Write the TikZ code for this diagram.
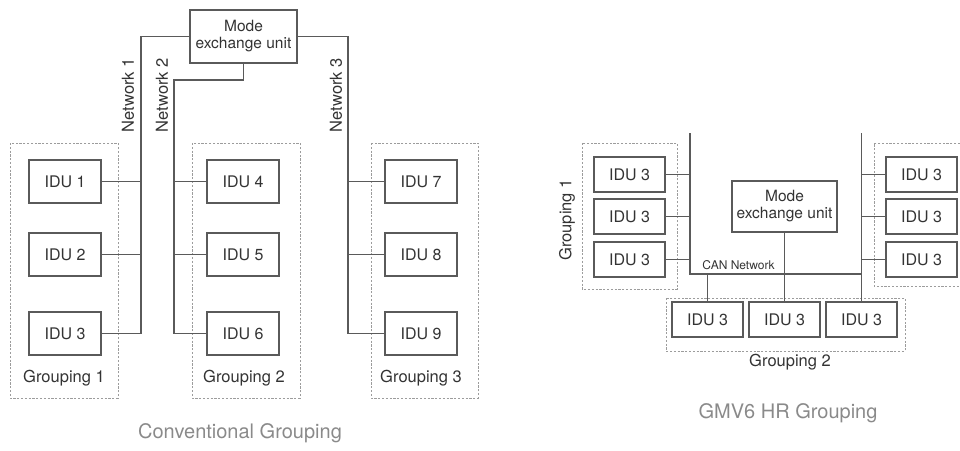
\documentclass[tikz,border=0pt]{standalone}
\usepackage{fontspec}
\setmainfont{TeX Gyre Heros}
\definecolor{linegray}{HTML}{5A5A5A}
\definecolor{txtgray}{HTML}{333333}
\definecolor{dashgray}{HTML}{9C9C9C}
\definecolor{titlegray}{HTML}{8A8A8A}
\begin{document}
\begin{tikzpicture}[x=1pt,y=-1pt,
  idu/.style={draw=linegray, line width=1.1pt, minimum width=72pt, minimum height=43pt, inner sep=0pt, font=\fontsize{16}{18}\selectfont, text=txtgray},
  iduR/.style={idu, minimum width=71pt, minimum height=35pt},
  modebox/.style={draw=linegray, line width=1.1pt, inner sep=0pt, align=center, font=\fontsize{15.5}{17}\selectfont, text=txtgray},
  wire/.style={draw=linegray, line width=1.1pt},
  grp/.style={draw=dashgray, line width=0.8pt, dash pattern=on 2.2pt off 1.6pt},
  lbl/.style={font=\fontsize{16.5}{18}\selectfont, text=txtgray, inner sep=0pt},
  netlbl/.style={lbl, rotate=90},
  title/.style={font=\fontsize{20}{22}\selectfont, text=titlegray, inner sep=0pt},
  canlbl/.style={font=\fontsize{12}{13}\selectfont, text=txtgray, inner sep=0pt}
]
\useasboundingbox (0,0) rectangle (960,450);

% ---------------- Conventional grouping ----------------
\draw[grp] (10,143) rectangle (118,398);
\draw[grp] (192,143) rectangle (300,398);
\draw[grp] (371,143) rectangle (478,398);

\node[modebox, minimum width=107pt, minimum height=53pt] (m1) at (243.5,36.5) {Mode\\exchange unit};

\node[idu] (i1) at (65,181.5) {IDU 1};
\node[idu] (i2) at (65,254.5) {IDU 2};
\node[idu] (i3) at (65,333.5) {IDU 3};
\node[idu] (i4) at (243,181.5) {IDU 4};
\node[idu] (i5) at (243,254.5) {IDU 5};
\node[idu] (i6) at (243,333.5) {IDU 6};
\node[idu] (i7) at (421,181.5) {IDU 7};
\node[idu] (i8) at (421,254.5) {IDU 8};
\node[idu] (i9) at (421,333.5) {IDU 9};

\coordinate (b1) at (141,333.5);
\coordinate (b2t) at (174,80);
\coordinate (b2) at (174,333.5);
\coordinate (b3) at (348,333.5);

\draw[wire] (m1.west) -| (b1) -- (i3.east);
\draw[wire] (i1.east) -- (i1.east -| b1);
\draw[wire] (i2.east) -- (i2.east -| b1);

\draw[wire] (m1.south) |- (b2t) -- (b2) -- (i6.west);
\draw[wire] (i4.west) -- (i4.west -| b2);
\draw[wire] (i5.west) -- (i5.west -| b2);

\draw[wire] (m1.east) -| (b3) -- (i9.west);
\draw[wire] (i7.west) -- (i7.west -| b3);
\draw[wire] (i8.west) -- (i8.west -| b3);

\node[netlbl] (n1) at (128,95) {Network 1};
\node[netlbl] (n2) at (162,95) {Network 2};
\node[netlbl] (n3) at (336,95) {Network 3};

\node[lbl] (g1) at (64,378) {Grouping 1};
\node[lbl] (g2) at (244,378) {Grouping 2};
\node[lbl] (g3) at (421,378) {Grouping 3};

\node[title] (t1) at (240,433) {Conventional Grouping};

% ---------------- GMV6 HR grouping ----------------
\draw[grp] (582,143) rectangle (677,289);
\draw[grp] (960,143) -- (874,143) -- (874,286) -- (960,286);
\draw[grp] (666,298) rectangle (905,351);

\node[modebox, minimum width=105pt, minimum height=51pt] (m2) at (784.5,206.5) {Mode\\exchange unit};

\node[iduR] (l1) at (629.5,174.5) {IDU 3};
\node[iduR] (l2) at (629.5,216.5) {IDU 3};
\node[iduR] (l3) at (629.5,259.5) {IDU 3};
\node[iduR] (r1) at (921.5,174.5) {IDU 3};
\node[iduR] (r2) at (921.5,216.5) {IDU 3};
\node[iduR] (r3) at (921.5,259.5) {IDU 3};
\node[iduR] (d1) at (707.5,319.5) {IDU 3};
\node[iduR] (d2) at (784.5,319.5) {IDU 3};
\node[iduR] (d3) at (861.5,319.5) {IDU 3};

\coordinate (lt) at (690,133);
\coordinate (lb) at (690,274);
\coordinate (rt) at (861.5,133);
\coordinate (cb) at (707.5,274);

\draw[wire] (lt) -- (lb) -- (lb -| rt);
\draw[wire] (rt) -- (d3.north);
\draw[wire] (cb) -- (d1.north);
\draw[wire] (m2.south) -- (d2.north);
\draw[wire] (l1.east) -- (l1.east -| lt);
\draw[wire] (l2.east) -- (l2.east -| lt);
\draw[wire] (l3.east) -- (l3.east -| lt);
\draw[wire] (r1.west) -- (r1.west -| rt);
\draw[wire] (r2.west) -- (r2.west -| rt);
\draw[wire] (r3.west) -- (r3.west -| rt);

\node[canlbl] (can) at (738.5,265) {CAN Network};
\node[netlbl] (gr1) at (567,220) {Grouping 1};
\node[lbl] (gr2) at (790,362) {Grouping 2};
\node[title] (t2) at (788,413) {GMV6 HR Grouping};
\end{tikzpicture}
\end{document}
